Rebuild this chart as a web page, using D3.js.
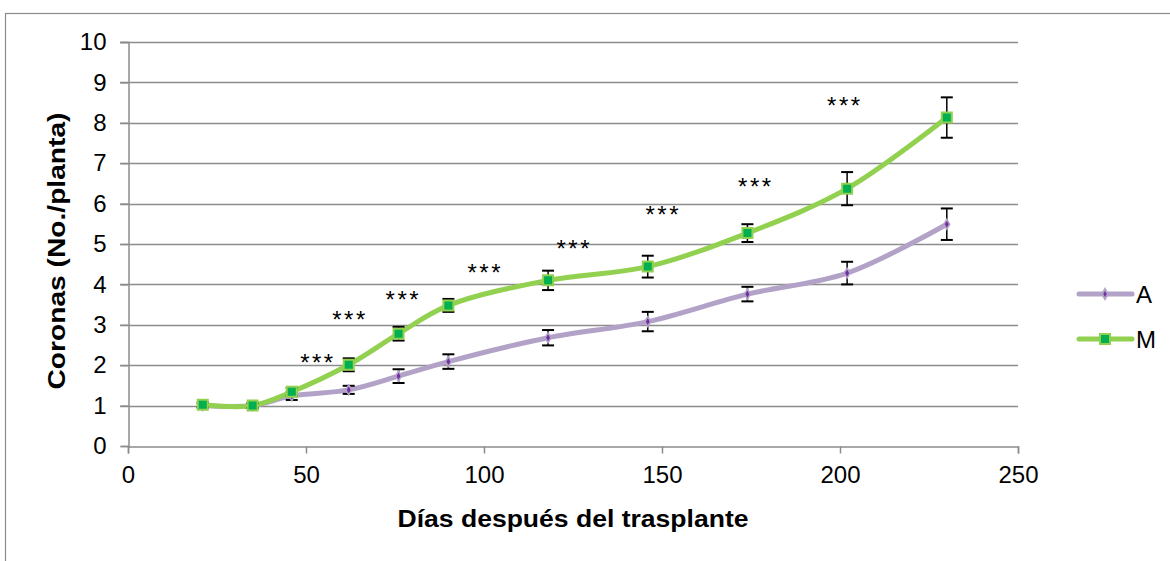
<!DOCTYPE html>
<html>
<head>
<meta charset="utf-8">
<script src="https://cdn.jsdelivr.net/npm/d3@7"></script>
<style>
  body { margin: 0; background: #fff; }
  svg { display: block; font-family: "Liberation Sans", Arial, sans-serif; }
</style>
</head>
<body>
<svg id="chart" width="1170" height="561"></svg>
<script>
// days after transplant
var days = [21, 35, 46, 62, 76, 90, 118, 146, 174, 202, 230];
var seriesA = [1.0, 1.0, 1.24, 1.39, 1.73, 2.09, 2.68, 3.08, 3.76, 4.28, 5.49];
var errA = [0.05, 0.05, 0.1, 0.1, 0.17, 0.18, 0.19, 0.24, 0.18, 0.28, 0.39];
var seriesM = [1.02, 1.0, 1.34, 2.01, 2.78, 3.48, 4.1, 4.44, 5.27, 6.37, 8.13];
var errM = [0.06, 0.06, 0.1, 0.16, 0.17, 0.16, 0.24, 0.27, 0.22, 0.41, 0.5];
var seriesNames = ["A", "M"];
// significance labels (x in days, y in axis units)
var starX = [53, 62, 77, 100, 125, 150, 176, 201];
var starY = [2.21, 3.26, 3.76, 4.43, 5.02, 5.87, 6.57, 8.56];
var xTicks = [0, 50, 100, 150, 200, 250];
var yTicks = [0, 1, 2, 3, 4, 5, 6, 7, 8, 9, 10];

var svg = d3.select("#chart");
var plotLeft = 128, plotRight = 1018, plotTop = 42, plotBottom = 446;

// chart frame
svg.append("rect")
  .attr("x", 5.5).attr("y", 13.5)
  .attr("width", 1200).attr("height", 600)
  .attr("fill", "none").attr("stroke", "#8c8c8c").attr("stroke-width", 1.2);

var x = d3.scaleLinear().domain([0, 250]).range([plotLeft, plotRight]);
var y = d3.scaleLinear().domain([0, 10]).range([plotBottom, plotTop]);

// gridlines
svg.append("g").selectAll("line")
  .data(yTicks.slice(1))
  .enter().append("line")
  .attr("x1", plotLeft - 8).attr("x2", plotRight)
  .attr("y1", function(d) { return Math.round(y(d)) + 0.5; })
  .attr("y2", function(d) { return Math.round(y(d)) + 0.5; })
  .attr("stroke", "#8c8c8c").attr("stroke-width", 1.5);

// y axis
var yAxis = svg.append("g")
  .attr("transform", "translate(" + (plotLeft + 0.5) + ",0)")
  .call(d3.axisLeft(y).tickValues(yTicks).tickSize(8).tickPadding(14));
// x axis
var xAxis = svg.append("g")
  .attr("transform", "translate(0," + (plotBottom + 0.5) + ")")
  .call(d3.axisBottom(x).tickValues(xTicks).tickSize(7).tickPadding(12));

[yAxis, xAxis].forEach(function(ax) {
  ax.select(".domain").attr("stroke", "#8c8c8c").attr("stroke-width", 1.5);
  ax.selectAll(".tick line").attr("stroke", "#8c8c8c").attr("stroke-width", 1.5);
  ax.selectAll(".tick text")
    .attr("fill", "#000")
    .style("font-size", "24px")
    .style("font-family", "'Liberation Sans', Arial, sans-serif");
});

// axis titles
svg.append("text")
  .attr("transform", "translate(65,251) rotate(-90)")
  .attr("text-anchor", "middle")
  .attr("textLength", 277).attr("lengthAdjust", "spacingAndGlyphs")
  .style("font-size", "23px").style("font-weight", "bold")
  .text("Coronas (No./planta)");

svg.append("text")
  .attr("x", 573).attr("y", 527)
  .attr("text-anchor", "middle")
  .attr("textLength", 351).attr("lengthAdjust", "spacingAndGlyphs")
  .style("font-size", "23px").style("font-weight", "bold")
  .text("Días después del trasplante");

var line = d3.line()
  .x(function(d) { return x(d[0]); })
  .y(function(d) { return y(d[1]); })
  .curve(d3.curveCatmullRom.alpha(0.5));

var series = [
  { name: "A", values: seriesA, err: errA, color: "#b3a2c7", marker: "#7030a0" },
  { name: "M", values: seriesM, err: errM, color: "#92d050", marker: "#00b050" }
];

series.forEach(function(s) {
  var pts = days.map(function(d, i) { return [d, s.values[i], s.err[i]]; });

  svg.append("path")
    .datum(pts)
    .attr("d", line)
    .attr("fill", "none")
    .attr("stroke", s.color)
    .attr("stroke-width", 5)
    .attr("stroke-linecap", "round");

  // error bars
  var eb = svg.append("g").selectAll("g")
    .data(pts)
    .enter().append("g");
  eb.append("line")
    .attr("x1", function(d) { return x(d[0]); })
    .attr("x2", function(d) { return x(d[0]); })
    .attr("y1", function(d) { return y(d[1] + d[2]); })
    .attr("y2", function(d) { return y(d[1] - d[2]); })
    .attr("stroke", "#000").attr("stroke-width", 1.5);
  [1, -1].forEach(function(sign) {
    eb.append("line")
      .attr("x1", function(d) { return x(d[0]) - 6; })
      .attr("x2", function(d) { return x(d[0]) + 6; })
      .attr("y1", function(d) { return y(d[1] + sign * d[2]); })
      .attr("y2", function(d) { return y(d[1] + sign * d[2]); })
      .attr("stroke", "#000").attr("stroke-width", 2);
  });

  // markers
  var mk = svg.append("g").selectAll("path")
    .data(pts)
    .enter().append("path")
    .attr("transform", function(d) { return "translate(" + x(d[0]) + "," + y(d[1]) + ")"; });
  if (s.name === "M") {
    mk.attr("d", "M-5,-5H5V5H-5Z")
      .attr("fill", s.marker).attr("stroke", s.color).attr("stroke-width", 2);
  } else {
    mk.attr("d", d3.symbol().type(d3.symbolDiamond).size(28))
      .attr("fill", s.marker).attr("stroke", s.color).attr("stroke-width", 1.5);
  }
});

// significance stars
svg.append("g").selectAll("text")
  .data(starX)
  .enter().append("text")
  .attr("x", function(d) { return x(d); })
  .attr("y", function(d, i) { return y(starY[i]) + 14; })
  .attr("text-anchor", "middle")
  .attr("textLength", 33).attr("lengthAdjust", "spacing")
  .style("font-size", "24px")
  .text("***");

// legend
var lg = svg.append("g").selectAll("g")
  .data(series)
  .enter().append("g")
  .attr("transform", function(d, i) { return "translate(1077," + (294 + i * 45) + ")"; });
lg.append("line")
  .attr("x1", 2).attr("x2", 55)
  .attr("stroke", function(d) { return d.color; })
  .attr("stroke-width", 5).attr("stroke-linecap", "round");
lg.append("path")
  .attr("transform", "translate(28,0)")
  .attr("d", function(d) { return d.name === "M" ? "M-5,-5H5V5H-5Z" : d3.symbol().type(d3.symbolDiamond).size(28)(); })
  .attr("fill", function(d) { return d.marker; })
  .attr("stroke", function(d) { return d.color; })
  .attr("stroke-width", 2);
lg.append("text")
  .attr("x", 59).attr("y", 9)
  .style("font-size", "24px")
  .text(function(d) { return d.name; });
</script>
</body>
</html>
